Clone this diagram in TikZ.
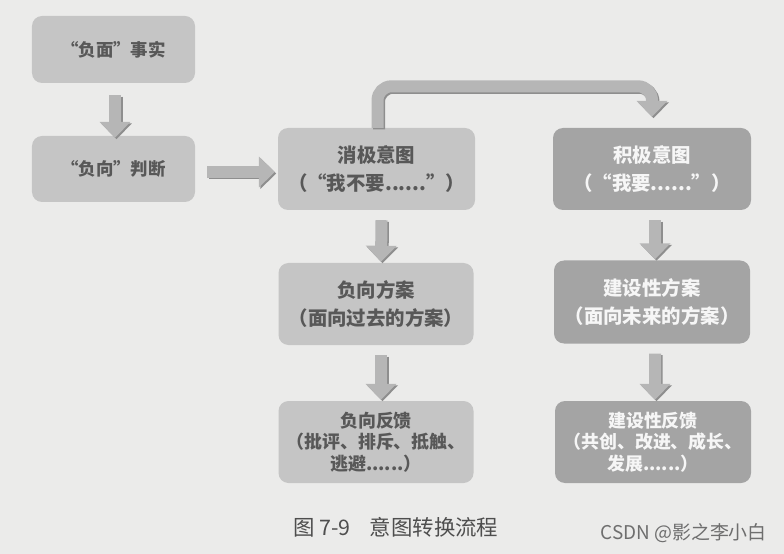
\documentclass[tikz,border=0pt]{standalone}
\usepackage{fontspec}
\setmainfont{Noto Sans CJK SC}
\usetikzlibrary{arrows.meta}
\definecolor{bg}{HTML}{EBEBEA}
\definecolor{lightbox}{HTML}{C5C5C5}
\definecolor{darkbox}{HTML}{A4A4A4}
\definecolor{ltext}{HTML}{585858}
\definecolor{dtext}{HTML}{F6F6F6}
\definecolor{arrowc}{HTML}{B6B6B6}
\definecolor{arrowsh}{HTML}{8E8E8E}
\definecolor{captc}{HTML}{4E4E4E}
\definecolor{wmc}{HTML}{6E6E6E}
\tikzset{
  boxbase/.style={rounded corners=10bp, inner sep=0pt, align=center, font=\bfseries},
  lbox/.style={boxbase, fill=lightbox, text=ltext},
  dbox/.style={boxbase, fill=darkbox, text=dtext},
  barrow/.style={line width=12bp, draw=arrowc, -{Triangle[width=30bp,length=16bp]},
    preaction={draw=arrowsh, line width=12bp, -{Triangle[width=30bp,length=16bp]}, transform canvas={xshift=1.5bp,yshift=-1.5bp}}},
  sizeA/.style={font=\bfseries\fontsize{17.5}{21}\selectfont},
  sizeB/.style={font=\bfseries\fontsize{19.5}{28}\selectfont},
  sizeC/.style={font=\bfseries\fontsize{18}{21.5}\selectfont},
}
\begin{document}
\begin{tikzpicture}[x=1bp,y=-1bp]
\fill[bg] (0,0) rectangle (784,554);
\useasboundingbox (0,0) rectangle (784,554);

% boxes
\node[lbox, sizeA, minimum width=163bp, minimum height=67bp] (f1) at (113.5,49.5) {“负面”事实};
\node[lbox, sizeA, minimum width=163bp, minimum height=66bp] (f2) at (113.5,169) {“负向”判断};
\node[lbox, sizeB, minimum width=197bp, minimum height=82bp] (f3) at (376.5,169) {消极意图\\（“我不要......”）};
\node[dbox, sizeB, minimum width=198bp, minimum height=82bp] (f4) at (652,169) {积极意图\\（“我要......”）};
\node[lbox, sizeB, minimum width=195bp, minimum height=82bp] (f5) at (376,304) {负向方案\\（面向过去的方案）};
\node[dbox, sizeB, minimum width=196bp, minimum height=83bp] (f6) at (652,302) {建设性方案\\（面向未来的方案）};
\node[lbox, sizeC, minimum width=195bp, minimum height=82bp] (f7) at (376,442) {负向反馈\\（批评、排斥、抵触、\\逃避......）};
\node[dbox, sizeC, minimum width=196bp, minimum height=82bp] (f8) at (653,442) {建设性反馈\\（共创、改进、成长、\\发展......）};

% arrows
\draw[barrow] ([xshift=1.5bp,yshift=-12bp]f1.south) -- ([xshift=1.5bp,yshift=-2bp]f2.north);
\draw[barrow] ([xshift=12bp,yshift=-3bp]f2.east) -- ([xshift=-3bp,yshift=-3bp]f3.west);
\draw[barrow, rounded corners=14bp] ([xshift=1bp]f3.north) |- ([yshift=41.5bp]f4.north) -- ([yshift=11bp]f4.north);
\draw[barrow] ([xshift=5bp,yshift=-10bp]f3.south) -- ([xshift=5bp,yshift=1bp]f5.north);
\draw[barrow] ([xshift=5bp,yshift=-10bp]f5.south) -- ([xshift=5bp,yshift=1bp]f7.north);
\draw[barrow] ([xshift=3bp,yshift=-10bp]f4.south) -- ([xshift=3bp,yshift=1bp]f6.north);
\draw[barrow] ([xshift=3bp,yshift=-10bp]f6.south) -- ([xshift=2bp,yshift=1bp]f8.north);

% caption and watermark
\node[anchor=west, inner sep=0pt, text=captc, font=\fontsize{21.5}{25}\selectfont] (cap) at (293,527) {图 7-9\hspace{0.9em}意图转换流程};
\node[anchor=east, inner sep=0pt, text=wmc, font=\fontsize{19}{22}\selectfont] (wm) at (767,533) {CSDN @影之李小白};
\end{tikzpicture}
\end{document}
